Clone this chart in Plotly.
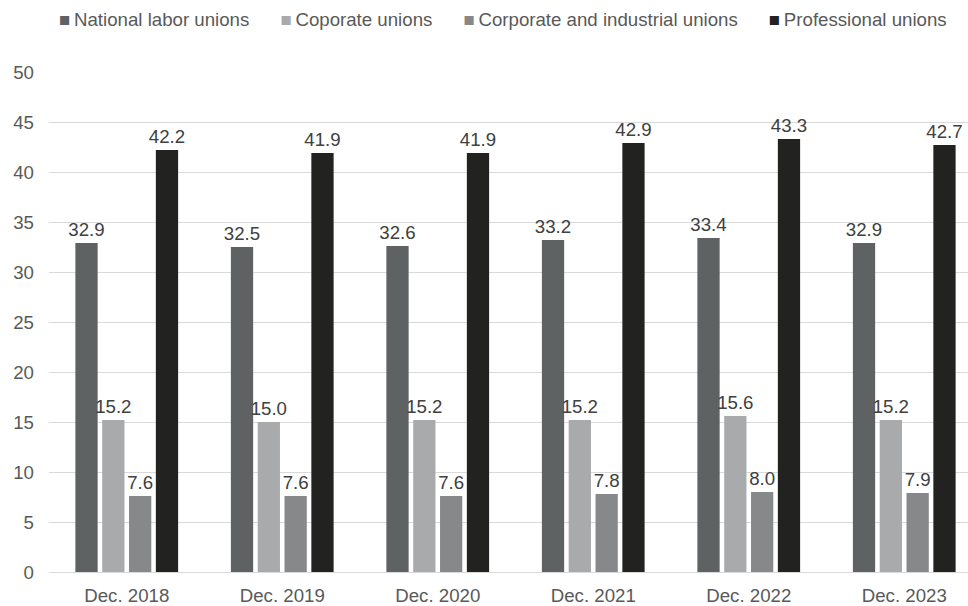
import plotly.graph_objects as go

periods = ["Dec. 2018", "Dec. 2019", "Dec. 2020", "Dec. 2021", "Dec. 2022", "Dec. 2023"]
national_labor = [32.9, 32.5, 32.6, 33.2, 33.4, 32.9]
coporate = [15.2, 15.0, 15.2, 15.2, 15.6, 15.2]
corporate_industrial = [7.6, 7.6, 7.6, 7.8, 8.0, 7.9]
professional = [42.2, 41.9, 41.9, 42.9, 43.3, 42.7]

series = [
    ("National labor unions", national_labor, "#5e6262"),
    ("Coporate unions", coporate, "#a9aaac"),
    ("Corporate and industrial unions", corporate_industrial, "#87888a"),
    ("Professional unions", professional, "#222220"),
]

font_family = "Liberation Sans, Arial, sans-serif"
fs = 18.67
text_grey = "#595959"

fig = go.Figure()
for name, vals, color in series:
    fig.add_trace(go.Bar(
        name=name,
        x=periods,
        y=vals,
        marker=dict(color=color, line=dict(width=0)),
        text=[f"{v:.1f}" for v in vals],
        textposition="outside",
        constraintext="none",
        textfont=dict(family=font_family, size=fs, color="#404040"),
        cliponaxis=False,
        showlegend=False,
    ))

# Legend row: a coloured square glyph followed by each series name
gap = "&nbsp;" * 6
legend_html = gap.join(
    f"<span style='color:{color}'>■</span>&#8201;{name}" for name, _, color in series
)
fig.add_annotation(
    text=legend_html,
    xref="paper", yref="paper",
    x=0.494, y=1.0, yanchor="bottom", xanchor="center",
    yshift=40,
    showarrow=False,
    font=dict(family=font_family, size=fs, color=text_grey),
)

fig.update_layout(
    width=968,
    height=606,
    margin=dict(l=49, r=0, t=72, b=34),
    paper_bgcolor="white",
    plot_bgcolor="white",
    barmode="group",
    bargap=0.31,
    bargroupgap=0.17,
    uniformtext=dict(mode=False),
    font=dict(family=font_family, size=fs, color=text_grey),
    showlegend=False,
)

fig.update_xaxes(
    range=[-0.5, 5.41],
    showgrid=False,
    showline=False,
    ticks="",
    ticklabelstandoff=10,
    tickfont=dict(size=fs, color=text_grey),
)
fig.update_yaxes(
    range=[0, 50],
    dtick=5,
    showgrid=True,
    gridcolor="#d9d9d9",
    gridwidth=1,
    zeroline=True,
    zerolinecolor="#d9d9d9",
    zerolinewidth=1,
    showline=False,
    ticks="",
    ticklabelstandoff=14,
    tickfont=dict(size=fs, color=text_grey),
)

fig.write_html("out.html")
